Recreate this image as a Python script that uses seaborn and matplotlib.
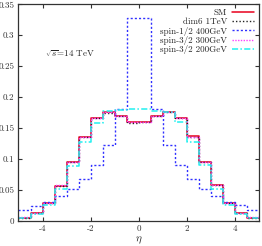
import numpy as np
import pandas as pd
import seaborn as sns
import matplotlib
matplotlib.use("Agg")
import matplotlib.pyplot as plt

# ---- data ----
edges = [-5.0, -4.5, -4.0, -3.5, -3.0, -2.5, -2.0, -1.5, -1.0, -0.5, 0.0,
         0.5, 1.0, 1.5, 2.0, 2.5, 3.0, 3.5, 4.0, 4.5, 5.0]
sm = [0.005, 0.0125, 0.0287, 0.0567, 0.095, 0.1354, 0.1657, 0.175, 0.169, 0.159,
      0.159, 0.169, 0.175, 0.166, 0.1366, 0.095, 0.057, 0.0287, 0.0125, 0.005]
dim6 = [0.005, 0.0127, 0.029, 0.0565, 0.0955, 0.135, 0.166, 0.1745, 0.1695, 0.1585,
        0.159, 0.169, 0.175, 0.166, 0.136, 0.095, 0.057, 0.029, 0.0125, 0.005]
spin12_400 = [0.018, 0.023, 0.030, 0.040, 0.051, 0.067, 0.0896, 0.1225, 0.181, 0.328,
              0.328, 0.181, 0.122, 0.0896, 0.068, 0.052, 0.0405, 0.030, 0.026, 0.018]
spin32_300 = [0.0055, 0.013, 0.029, 0.057, 0.0955, 0.136, 0.166, 0.175, 0.169, 0.159,
              0.159, 0.169, 0.175, 0.166, 0.136, 0.0955, 0.057, 0.029, 0.013, 0.0055]
spin32_200 = [0.004, 0.011, 0.026, 0.051, 0.088, 0.127, 0.158, 0.177, 0.179, 0.180,
              0.180, 0.178, 0.176, 0.159, 0.128, 0.0896, 0.052, 0.026, 0.011, 0.004]
labels = ["SM", "dim6 1TeV", "spin-1/2 400GeV", "spin-3/2 300GeV", "spin-3/2 200GeV"]
xticks = [-4, -2, 0, 2, 4]
yticks = [0, 0.05, 0.1, 0.15, 0.2, 0.25, 0.3, 0.35]
ytick_labels = ["0", "0.05", "0.1", "0.15", "0.2", "0.25", "0.3", "0.35"]

sns.set_theme(style="ticks")
plt.rcParams["font.family"] = ["cmr10", "DejaVu Serif"]
plt.rcParams["mathtext.fontset"] = "cm"
plt.rcParams["axes.unicode_minus"] = False
plt.rcParams["axes.formatter.use_mathtext"] = True

fig = plt.figure(figsize=(2.62, 2.46), dpi=100)
ax = fig.add_axes([0.0706, 0.103, 0.9164, 0.8795])

series = [sm, dim6, spin12_400, spin32_300, spin32_200]
colors = ["#e8001c", "#222222", "#3030ff", "#ff40ff", "#22f0f0"]
styles = ["-", (0, (1, 1.5)), (0, (1.5, 1.5)), (0, (1, 1)), (0, (4, 1.5, 1, 1.5))]
widths = [1.1, 1.0, 1.0, 1.0, 1.1]

for vals, lab, c, ls, lw in zip(series, labels, colors, styles, widths):
    df = pd.DataFrame({"eta": edges, "v": list(vals) + [vals[-1]]})
    sns.lineplot(data=df, x="eta", y="v", ax=ax, color=c, linestyle=ls,
                 linewidth=lw, drawstyle="steps-post", label=lab)

ax.set_xlim(-5, 5)
ax.set_ylim(0, 0.35)
ax.set_xticks(xticks)
ax.set_xticklabels([str(t) for t in xticks])
ax.set_yticks(yticks)
ax.set_yticklabels(ytick_labels)
ax.tick_params(direction="in", top=True, right=True, length=3, width=0.8,
               labelsize=6.5, pad=3, colors="#333333")
for s in ax.spines.values():
    s.set_linewidth(0.9)
    s.set_color("#333333")
ax.set_xlabel(r"$\eta$", fontsize=8, labelpad=1)
ax.set_ylabel("")
ax.text(-3.9, 0.27, r"$\sqrt{s}$=14 TeV", fontsize=6.5, va="center", ha="left")

leg = ax.legend(loc="upper right", frameon=False, markerfirst=False, fontsize=6.5,
                labelspacing=0.05, handlelength=2.4, handletextpad=0.6,
                borderaxespad=0.3, borderpad=0.2)

fig.savefig("out.png", dpi=100)
